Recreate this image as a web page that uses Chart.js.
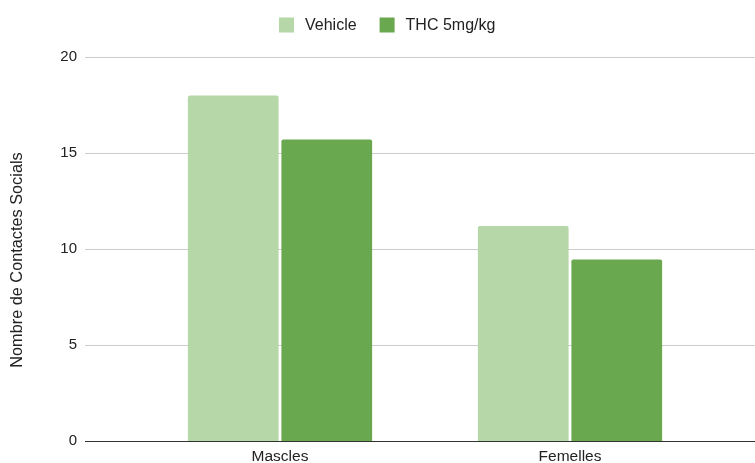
<!DOCTYPE html>
<html>
<head>
<meta charset="utf-8">
<script src="https://cdn.jsdelivr.net/npm/chart.js@4"></script>
<style>
  html, body { margin: 0; padding: 0; background: #fff; }
  #wrap { width: 755px; height: 463px; }
</style>
</head>
<body>
<div id="wrap"><canvas id="c" width="755" height="463"></canvas></div>
<script>
const categories = ['Mascles', 'Femelles'];
const vehicle = [18.0, 11.2];
const thc = [15.7, 9.45];
const seriesNames = ['Vehicle', 'THC 5mg/kg'];
const yTicks = [0, 5, 10, 15, 20];
const yTitle = 'Nombre de Contactes Socials';

const FONT = '"Liberation Sans", Arial, sans-serif';
const TEXT = '#222';
Chart.defaults.font.family = FONT;
Chart.defaults.color = TEXT;

// Horizontal gridlines span past the bar area on both sides; the zero line is darker
const wideGrid = {
  id: 'wideGrid',
  drawLine(ctx, py, color) {
    ctx.beginPath();
    ctx.strokeStyle = color;
    ctx.lineWidth = 1;
    ctx.moveTo(85, py);
    ctx.lineTo(755, py);
    ctx.stroke();
  },
  beforeDatasetsDraw(chart) {
    const { ctx } = chart;
    const y = chart.scales.y;
    ctx.save();
    yTicks.forEach(v => {
      if (v !== 0) this.drawLine(ctx, Math.round(y.getPixelForValue(v)) + 0.5, '#ccc');
    });
    ctx.restore();
  },
  afterDatasetsDraw(chart) {
    const { ctx } = chart;
    ctx.save();
    this.drawLine(ctx, Math.round(chart.scales.y.getPixelForValue(0)) + 0.5, '#333');
    ctx.restore();
  }
};

// Legend row above the plot: square swatch followed by the series name
const topLegend = {
  id: 'topLegend',
  afterDraw(chart) {
    const { ctx } = chart;
    const box = 15, gapText = 11, gapItem = 23, cy = 25;
    let x = 279;
    ctx.save();
    ctx.font = '16px ' + FONT;
    ctx.textBaseline = 'middle';
    ctx.textAlign = 'left';
    chart.data.datasets.forEach(ds => {
      ctx.fillStyle = ds.backgroundColor;
      ctx.fillRect(x, cy - box / 2, box, box);
      x += box + gapText;
      ctx.fillStyle = TEXT;
      ctx.fillText(ds.label, x, cy + 1);
      x += ctx.measureText(ds.label).width + gapItem;
    });
    ctx.restore();
  }
};

// Rotated y-axis title, set slightly below the middle of the value range
const sideTitle = {
  id: 'sideTitle',
  afterDraw(chart) {
    const { ctx } = chart;
    ctx.save();
    ctx.translate(17.5, 260);
    ctx.rotate(-Math.PI / 2);
    ctx.font = '16.3px ' + FONT;
    ctx.fillStyle = TEXT;
    ctx.textAlign = 'center';
    ctx.textBaseline = 'middle';
    ctx.fillText(yTitle, 0, 0);
    ctx.restore();
  }
};

new Chart(document.getElementById('c'), {
  type: 'bar',
  data: {
    labels: categories,
    datasets: [
      { label: seriesNames[0], data: vehicle, backgroundColor: '#b6d7a8', borderRadius: 2 },
      { label: seriesNames[1], data: thc, backgroundColor: '#6aa84f', borderRadius: 2 }
    ]
  },
  plugins: [wideGrid, topLegend, sideTitle],
  options: {
    responsive: false,
    animation: false,
    categoryPercentage: 0.645,
    barPercentage: 0.97,
    layout: { padding: { left: 0, right: 40, top: 0, bottom: 0 } },
    plugins: {
      legend: { display: false },
      tooltip: { enabled: false }
    },
    scales: {
      x: {
        grid: { display: false, drawTicks: false },
        border: { display: false },
        ticks: { padding: 6, color: TEXT, font: { size: 15.5 } },
        afterFit(s) { s.height = 22; }
      },
      y: {
        min: 0, max: 20,
        grid: { display: false, drawTicks: false },
        border: { display: false },
        ticks: { stepSize: 5, padding: 58, color: TEXT, font: { size: 15 } },
        title: { display: false },
        afterFit(s) {
          s.width = 135;
          s.paddingTop = 57;
          s.paddingBottom = 0;
        }
      }
    }
  }
});
</script>
</body>
</html>
